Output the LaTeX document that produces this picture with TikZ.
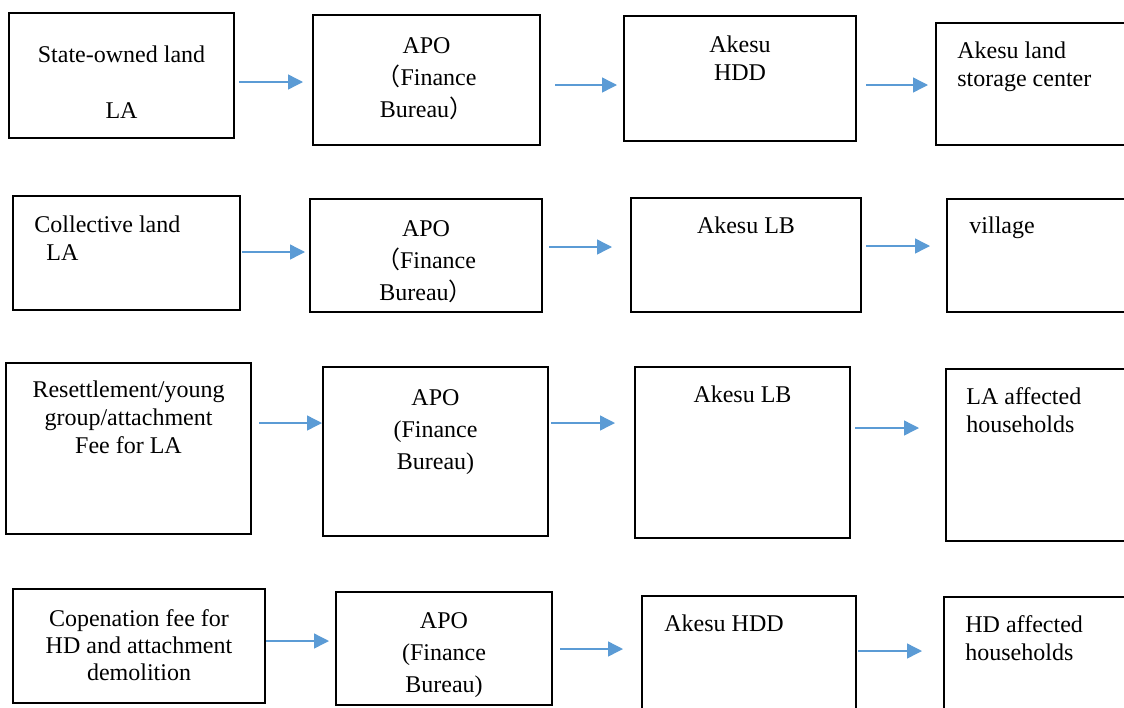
\documentclass[tikz,border=0pt]{standalone}
\usepackage{fontspec}
\setmainfont{Liberation Serif}
\newfontfamily\cjk{Noto Sans CJK SC}
\usepackage{tikz}
\usetikzlibrary{
  positioning,
  fit,
  arrows.meta
}
\definecolor{flowblue}{RGB}{91,155,213}
\tikzstyle{box}=[draw, line width=1.3pt, inner sep=0pt, outer sep=0pt]
\tikzstyle{flow}=[-{Triangle[length=7.5pt,width=7.5pt]}, color=flowblue, line width=0.7pt]
\tikzstyle{txt}=[inner sep=0pt, align=center, font=\fontsize{12}{14}\selectfont]
\tikzstyle{txtl}=[txt, align=left]
\tikzstyle{apo}=[txt, font=\fontsize{12}{16}\selectfont]

\begin{document}
\begin{tikzpicture}[x=0.5pt, y=-0.5pt]
    % 描画範囲
    \useasboundingbox (0,0) rectangle (1124,707);
    \clip (0,0) rectangle (1124,707);

    % 1段目の箱
    \node[box, fit={(9,13) (234,138)}] (a1) {};
    \node[box, fit={(313,15) (540,145)}] (b1) {};
    \node[box, fit={(624,16) (856,141)}] (c1) {};
    \node[box, fit={(936,23) (1140,145)}] (d1) {};

    % 1段目の文字
    \node[txt, below=16pt of a1.north] (a1t) {State-owned land\\[14pt]LA};
    \node[apo, below=11pt of b1.north] (b1t) {APO\\{\cjk （}Finance\\Bureau{\cjk ）}};
    \node[txt, below=9.5pt of c1.north] (c1t) {Akesu\\HDD};
    \node[txtl, below right=9pt and 10.5pt of d1.north west] (d1t) {Akesu land\\storage center};

    % 2段目の箱
    \node[box, fit={(13,196) (240,310)}] (a2) {};
    \node[box, fit={(310,199) (542,312)}] (b2) {};
    \node[box, fit={(631,198) (861,312)}] (c2) {};
    \node[box, fit={(947,199) (1140,312)}] (d2) {};

    % 2段目の文字
    \node[txtl, below right=9.5pt and 10.5pt of a2.north west] (a2t) {Collective land\\\hspace*{6pt}LA};
    \node[apo, below=10.5pt of b2.north] (b2t) {APO\\{\cjk （}Finance\\Bureau{\cjk ）}};
    \node[txt, below=9pt of c2.north] (c2t) {Akesu LB};
    \node[txtl, below right=8.5pt and 11pt of d2.north west] (d2t) {village};

    % 3段目の箱
    \node[box, fit={(6,363) (251,534)}] (a3) {};
    \node[box, fit={(323,367) (548,536)}] (b3) {};
    \node[box, fit={(635,367) (850,538)}] (c3) {};
    \node[box, fit={(946,369) (1140,541)}] (d3) {};

    % 3段目の文字
    \node[txt, below=8.5pt of a3.north] (a3t) {Resettlement/young\\group/attachment\\Fee for LA};
    \node[apo, below=11pt of b3.north] (b3t) {APO\\(Finance\\Bureau)};
    \node[txt, below=9pt of c3.north] (c3t) {Akesu LB};
    \node[txtl, below right=9pt and 10pt of d3.north west] (d3t) {LA affected\\households};

    % 4段目の箱
    \node[box, fit={(13,589) (265,703)}] (a4) {};
    \node[box, fit={(336,592) (552,705)}] (b4) {};
    \node[box, fit={(642,596) (856,730)}] (c4) {};
    \node[box, fit={(944,597) (1140,730)}] (d4) {};

    % 4段目の文字
    \node[txt, font=\fontsize{12}{13.5}\selectfont, below=10pt of a4.north] (a4t) {Copenation fee for\\HD and attachment\\demolition};
    \node[apo, below=10pt of b4.north] (b4t) {APO\\(Finance\\Bureau)};
    \node[txtl, below right=9pt and 11pt of c4.north west] (c4t) {Akesu HDD};
    \node[txtl, below right=9pt and 10.5pt of d4.north west] (d4t) {HD affected\\households};

    % 矢印
    \draw[flow] ([shift={(5,6.5)}]a1.east) -- ++(64,0);
    \draw[flow] ([shift={(15,5)}]b1.east) -- ++(62,0);
    \draw[flow] ([shift={(10,6.5)}]c1.east) -- ++(62,0);

    \draw[flow] ([shift={(2,-1)}]a2.east) -- ++(63,0);
    \draw[flow] ([shift={(7,-8.5)}]b2.east) -- ++(63,0);
    \draw[flow] ([shift={(5,-9)}]c2.east) -- ++(64,0);

    \draw[flow] ([shift={(8,-25.5)}]a3.east) -- ++(63,0);
    \draw[flow] ([shift={(3,-28.5)}]b3.east) -- ++(64,0);
    \draw[flow] ([shift={(5,-24.5)}]c3.east) -- ++(64,0);

    \draw[flow] ([shift={(1,-5)}]a4.east) -- ++(63,0);
    \draw[flow] ([shift={(8,0.5)}]b4.east) -- ++(63,0);
    \draw[flow] ([shift={(2,-12)}]c4.east) -- ++(64,0);
\end{tikzpicture}
\end{document}
